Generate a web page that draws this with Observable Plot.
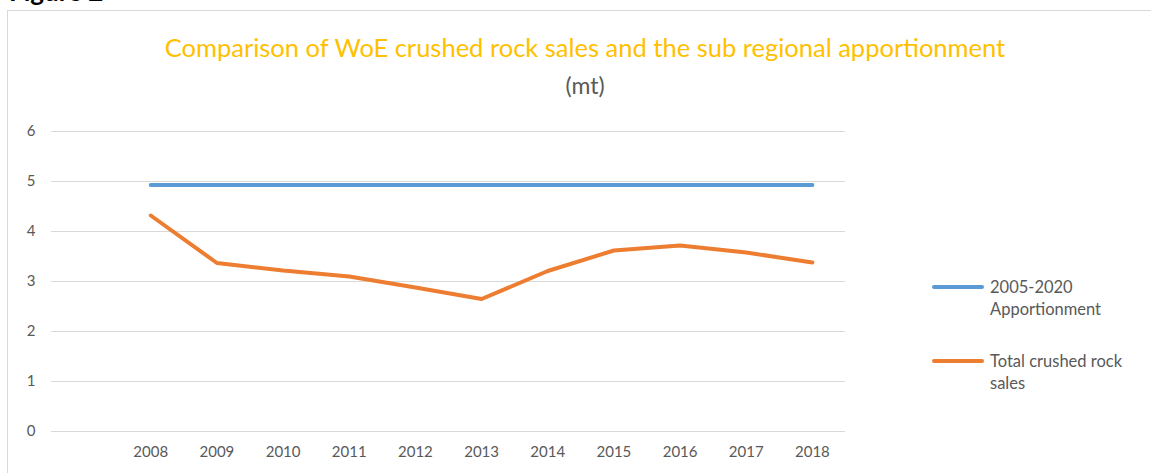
<!DOCTYPE html>
<html>
<head>
<meta charset="utf-8">
<script src="https://cdn.jsdelivr.net/npm/d3@7"></script>
<script src="https://cdn.jsdelivr.net/npm/@observablehq/plot@0.6"></script>
<style>
  html, body { margin: 0; padding: 0; background: #fff; overflow: hidden; }
  body { width: 1151px; height: 473px; position: relative; font-family: Lato, "Open Sans", sans-serif; }
  #fig { position: absolute; left: 9px; top: -24px; font-weight: bold; font-size: 26px; line-height: 30px; color: #000; }
  #frame { position: absolute; left: 7px; top: 10px; width: 1160px; height: 480px; border: 1px solid #D9D9D9; box-sizing: border-box; }
  #title { position: absolute; left: 0; width: 1170px; top: 32px; text-align: center; color: #FFC000; font-size: 25.5px; line-height: 30px; }
  #subtitle { position: absolute; left: 0; width: 1170px; top: 70px; text-align: center; color: #595959; font-size: 23px; line-height: 30px; }
  #chart { position: absolute; left: 0; top: 0; }
  #legend { position: absolute; left: 932px; top: 276px; color: #595959; font-size: 16.5px; line-height: 22px; }
  .item { display: flex; align-items: flex-start; margin-bottom: 30px; }
  .swatch { width: 52px; height: 4px; border-radius: 2px; margin-top: 9px; margin-right: 6px; }
</style>
</head>
<body>
<div id="fig">Figure 2</div>
<div id="frame"></div>
<div id="title">Comparison of WoE crushed rock sales and the sub regional apportionment</div>
<div id="subtitle">(mt)</div>
<div id="chart"></div>
<div id="legend"></div>
<script>
const years = [2008, 2009, 2010, 2011, 2012, 2013, 2014, 2015, 2016, 2017, 2018];
const apportionment = [4.93, 4.93, 4.93, 4.93, 4.93, 4.93, 4.93, 4.93, 4.93, 4.93, 4.93];
const crushedRock = [4.32, 3.37, 3.22, 3.10, 2.88, 2.65, 3.21, 3.62, 3.72, 3.58, 3.38];
const seriesNames = ["2005-2020\nApportionment", "Total crushed rock\nsales"];
const seriesColors = ["#5B9BD5", "#ED7D31"];
const yTicks = [0, 1, 2, 3, 4, 5, 6];

const data = [];
years.forEach((y, i) => {
  data.push({year: y, value: apportionment[i], series: seriesNames[0]});
  data.push({year: y, value: crushedRock[i], series: seriesNames[1]});
});

const chart = Plot.plot({
  width: 1151,
  height: 473,
  marginLeft: 51,
  marginRight: 306,
  marginTop: 131,
  marginBottom: 42,
  style: {fontFamily: "Lato, 'Open Sans', sans-serif", fontSize: "15px", color: "#595959", background: "transparent"},
  x: {domain: [2006.5, 2018.5], label: null},
  y: {domain: [0, 6], label: null},
  color: {domain: seriesNames, range: seriesColors},
  marks: [
    Plot.gridY(yTicks, {stroke: "#D9D9D9", strokeOpacity: 1, strokeWidth: 1}),
    Plot.axisX({ticks: years, tickFormat: d => String(d), tickSize: 0, tickPadding: 15, fontSize: 15, label: null}),
    Plot.axisY({ticks: yTicks, tickFormat: d => String(d), tickSize: 0, tickPadding: 16, fontSize: 15, label: null}),
    Plot.line(data, {x: "year", y: "value", z: "series", stroke: "series", strokeWidth: 4, strokeLinecap: "round", strokeLinejoin: "round"})
  ]
});
document.getElementById("chart").appendChild(chart);

const legend = document.getElementById("legend");
seriesNames.forEach((name, i) => {
  const item = document.createElement("div");
  item.className = "item";
  const sw = document.createElement("div");
  sw.className = "swatch";
  sw.style.background = seriesColors[i];
  const label = document.createElement("div");
  label.innerHTML = name.split("\n").join("<br>");
  item.appendChild(sw);
  item.appendChild(label);
  legend.appendChild(item);
});
</script>
</body>
</html>
